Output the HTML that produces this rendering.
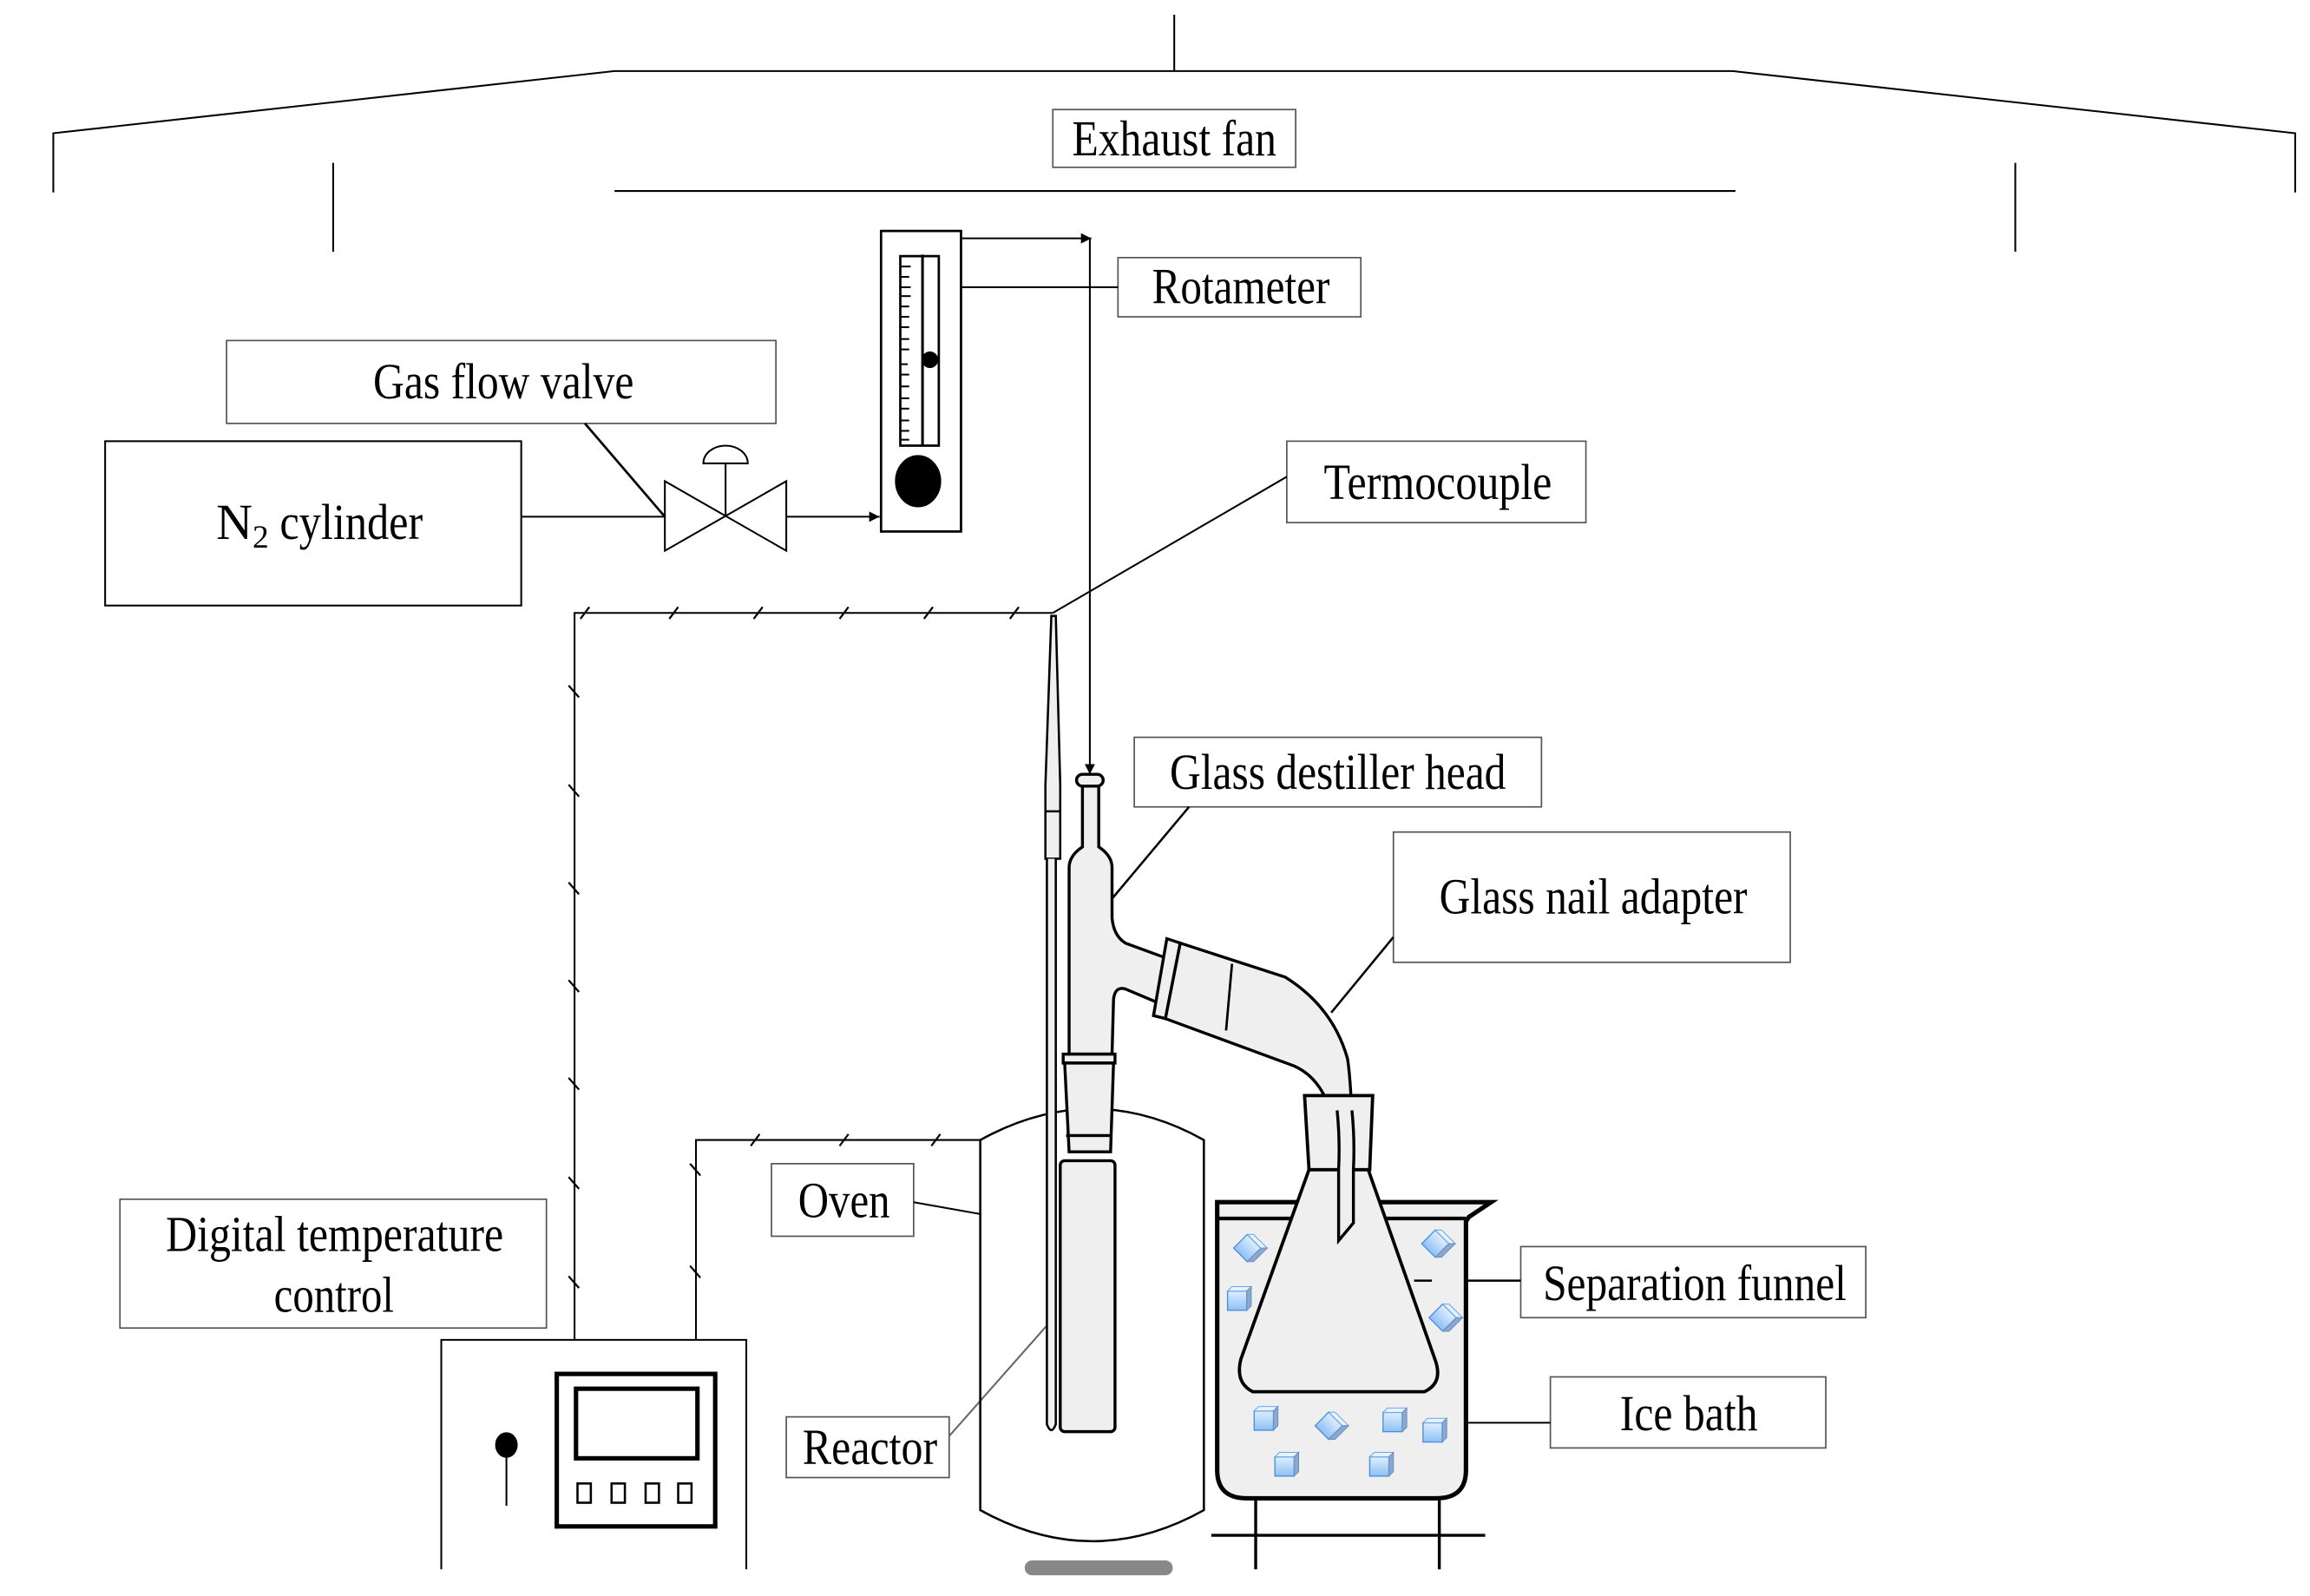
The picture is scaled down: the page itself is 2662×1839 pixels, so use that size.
<!DOCTYPE html>
<html><head><meta charset="utf-8"><style>
html,body{margin:0;padding:0;background:#fff;}
svg{display:block;}
text{font-family:"Liberation Serif",serif;font-size:34px;fill:#000;}
</style></head><body>
<svg width="2662" height="1839" viewBox="0 0 1560 1078" preserveAspectRatio="none" xmlns="http://www.w3.org/2000/svg">
<defs>
<marker id="ah" viewBox="0 0 10 10" refX="10" refY="5" markerWidth="7" markerHeight="7" orient="auto" markerUnits="userSpaceOnUse"><path d="M0,0 L10,5 L0,10 z" fill="#000"/></marker>
<linearGradient id="ice" x1="0" y1="0" x2="0" y2="1"><stop offset="0" stop-color="#dfeeff"/><stop offset="1" stop-color="#8ec0f5"/></linearGradient>
<g id="cube"><rect x="-7" y="-6" width="13" height="13" fill="url(#ice)" stroke="#4a90d9" stroke-width="0.8"/><path d="M-7,-6 L-4,-9 L9,-9 L6,-6 z" fill="#e6f2ff" stroke="#6aa6e6" stroke-width="0.6"/><path d="M6,-6 L9,-9 L9,4 L6,7 z" fill="#8aa8d0" stroke="#6a90c0" stroke-width="0.6"/></g>
</defs>
<g fill="none" stroke="#000" stroke-width="1.2">
<line x1="793" y1="10" x2="793" y2="48"/>
<polyline points="36,130 36,90 415,48 1170,48 1550,90 1550,130"/>
<line x1="225" y1="110" x2="225" y2="170"/>
<line x1="1361" y1="110" x2="1361" y2="170"/>
<line x1="415" y1="129" x2="1172" y2="129"/>
<rect x="711" y="74" width="164" height="39" stroke="#555" stroke-width="1"/>
<rect x="755" y="174" width="164" height="40" stroke="#555" stroke-width="1"/>
<rect x="153" y="230" width="371" height="56" stroke="#555" stroke-width="1"/>
<rect x="71" y="298" width="281" height="111"/>
<rect x="869" y="298" width="202" height="55" stroke="#555" stroke-width="1"/>
<rect x="766" y="498" width="275" height="47" stroke="#555" stroke-width="1"/>
<rect x="941" y="562" width="268" height="88" stroke="#555" stroke-width="1"/>
<rect x="521" y="786" width="96" height="49" stroke="#555" stroke-width="1"/>
<rect x="81" y="810" width="288" height="87" stroke="#555" stroke-width="1"/>
<rect x="531" y="957" width="110" height="41" stroke="#555" stroke-width="1"/>
<rect x="1027" y="842" width="233" height="48" stroke="#555" stroke-width="1"/>
<rect x="1047" y="930" width="186" height="48" stroke="#555" stroke-width="1"/>
<line x1="649" y1="194" x2="755" y2="194"/>
<line x1="395" y1="286" x2="449" y2="349" stroke-width="1.6"/>
<line x1="869" y1="322" x2="711" y2="414"/>
<line x1="803" y1="545" x2="751" y2="607" stroke-width="1.5"/>
<line x1="941" y1="633" x2="899" y2="684" stroke-width="1.5"/>
<line x1="617" y1="812" x2="662" y2="820"/>
<line x1="641" y1="970" x2="709" y2="893" stroke="#666"/>
<line x1="955" y1="865" x2="1027" y2="865" stroke-width="1.5"/>
<line x1="990" y1="961" x2="1047" y2="961"/>
<line x1="352" y1="349" x2="449" y2="349"/>
<path d="M449,325 L449,372 L531,325 L531,372 z"/>
<line x1="490" y1="349" x2="490" y2="313"/>
<path d="M475,313 A15,12 0 0 1 505,313 z"/>
<line x1="531" y1="349" x2="594" y2="349" marker-end="url(#ah)"/>
<rect x="595" y="156" width="54" height="203" stroke-width="1.6"/>
<rect x="608" y="173" width="26" height="128" stroke-width="1.6"/>
<line x1="623" y1="172" x2="623" y2="301" stroke-width="1.8"/>
<g stroke-width="1.2">
<line x1="608" y1="180" x2="615" y2="180"/><line x1="608" y1="187" x2="614" y2="187"/><line x1="608" y1="194" x2="615" y2="194"/><line x1="608" y1="200" x2="615" y2="200"/><line x1="608" y1="207" x2="614" y2="207"/><line x1="608" y1="214" x2="614" y2="214"/><line x1="608" y1="221" x2="614" y2="221"/><line x1="608" y1="229" x2="614" y2="229"/><line x1="608" y1="236" x2="614" y2="236"/><line x1="608" y1="246" x2="613" y2="246"/><line x1="608" y1="253" x2="614" y2="253"/><line x1="608" y1="261" x2="614" y2="261"/><line x1="608" y1="269" x2="614" y2="269"/><line x1="608" y1="276" x2="614" y2="276"/><line x1="608" y1="284" x2="614" y2="284"/><line x1="608" y1="291" x2="614" y2="291"/><line x1="608" y1="297" x2="614" y2="297"/>
</g>
<circle cx="628" cy="243" r="5" fill="#000"/>
<ellipse cx="620" cy="325" rx="15" ry="17" fill="#000"/>
<polyline points="649,161 737,161" marker-end="url(#ah)"/>
<line x1="736" y1="161" x2="736" y2="523" marker-end="url(#ah)"/>
<polyline points="711,414 388,414 388,905"/>
<polyline points="662,770 470,770 470,905"/>
<g stroke-width="1.3">
<line x1="392" y1="418" x2="398" y2="410"/><line x1="452" y1="418" x2="458" y2="410"/><line x1="509" y1="418" x2="515" y2="410"/><line x1="567" y1="418" x2="573" y2="410"/><line x1="624" y1="418" x2="630" y2="410"/><line x1="682" y1="418" x2="688" y2="410"/>
<line x1="384" y1="463" x2="391" y2="471"/><line x1="384" y1="530" x2="391" y2="538"/><line x1="384" y1="596" x2="391" y2="604"/><line x1="384" y1="662" x2="391" y2="670"/><line x1="384" y1="728" x2="391" y2="736"/><line x1="384" y1="795" x2="391" y2="803"/><line x1="384" y1="862" x2="391" y2="870"/>
<line x1="507" y1="774" x2="513" y2="766"/><line x1="567" y1="774" x2="573" y2="766"/><line x1="629" y1="774" x2="635" y2="766"/>
<line x1="466" y1="786" x2="473" y2="794"/><line x1="466" y1="855" x2="473" y2="863"/>
</g>
<path d="M662,770 Q738,728 813,770 L813,1020 Q738,1062 662,1020 z" stroke-width="1.5"/>
<rect x="692" y="1054" width="100" height="10" rx="5" fill="#888" stroke="none"/>
<polyline points="298,1060 298,905 504,905 504,1060"/>
<rect x="376" y="928" width="107" height="103" stroke-width="3"/>
<rect x="389" y="938" width="82" height="47" stroke-width="3"/>
<g stroke-width="1.5"><rect x="390" y="1002" width="9" height="13"/><rect x="413" y="1002" width="9" height="13"/><rect x="436" y="1002" width="9" height="13"/><rect x="458" y="1002" width="9" height="13"/></g>
<ellipse cx="342" cy="976" rx="7" ry="8" fill="#000"/>
<line x1="342" y1="976" x2="342" y2="1017"/>
</g>
<g fill="#efefef" stroke="#000" stroke-width="2">
<path d="M710,416 L713,416 L716,530 L716,580 L706,580 L706,530 z" stroke-width="1.5"/>
<line x1="706" y1="548" x2="716" y2="548" stroke-width="1.5"/>
<path d="M707,580 L707,962 Q710,970 713,962 L713,580" stroke-width="1.5"/>
<path d="M797,637 L868,660 Q900,680 910,715 Q914,740 914,826 L903,838 Q903,770 899,752 Q892,728 874,720 L787,688 z"/>
<line x1="832" y1="651" x2="828" y2="696" stroke-width="1.6"/>
<path d="M731,531 L742,531 L742,572 Q751,578 751,586 L751,620 Q752,632 760,637 L790,648 L786,679 L760,668 Q753,666 752,675 L751,712 L722,712 L722,586 Q722,578 731,572 z"/>
<path d="M788,634 L797,637 L787,688 L779,686 z"/>
<rect x="727" y="523" width="18" height="8" rx="4"/>
<path d="M718,712 L753,712 L753,718 L718,718 z"/>
<path d="M719,718 L752,718 L750,778 L722,778 z"/>
<line x1="720" y1="767" x2="751" y2="767"/>
<rect x="716" y="784" width="37" height="183" rx="3"/>
<path d="M822,812 L1007,812 L992,822 L990,825 L990,993 Q990,1012 970,1012 L842,1012 Q822,1012 822,993 z" stroke-width="3"/>
<line x1="823" y1="823" x2="990" y2="823" stroke-width="2.5"/>
<path d="M884,790 L924,790 L969,918 Q975,934 962,940 L846,940 Q834,934 838,918 z" stroke-width="2.2"/>
<path d="M881,740 L927,740 L925,790 L884,790 z" stroke-width="2.2"/>
<path d="M903,750 Q905,770 904,790 L904,838 L914,826 L914,790 Q915,770 913,750" stroke-width="2"/>
</g>
<line x1="955" y1="865" x2="967" y2="865" stroke="#000" stroke-width="1.5"/>
<g stroke="#000" stroke-width="2">
<line x1="848" y1="1013" x2="848" y2="1060"/><line x1="972" y1="1013" x2="972" y2="1060"/>
<line x1="818" y1="1037" x2="1003" y2="1037"/>
</g>
<use href="#cube" x="836" y="878"/>
<use href="#cube" x="854" y="959"/>
<use href="#cube" x="941" y="960"/>
<use href="#cube" x="968" y="967"/>
<use href="#cube" x="868" y="990"/>
<use href="#cube" x="932" y="990"/>
<use href="#cube" x="843" y="843" transform="rotate(45 843 843)"/>
<use href="#cube" x="970" y="840" transform="rotate(45 970 840)"/>
<use href="#cube" x="975" y="890" transform="rotate(45 975 890)"/>
<use href="#cube" x="898" y="963" transform="rotate(45 898 963)"/>
<text x="724" y="105" textLength="138" lengthAdjust="spacingAndGlyphs">Exhaust fan</text>
<text x="778" y="205" textLength="120" lengthAdjust="spacingAndGlyphs">Rotameter</text>
<text x="252" y="269" textLength="176" lengthAdjust="spacingAndGlyphs">Gas flow valve</text>
<text x="146" y="364">N<tspan font-size="22" dy="6">2</tspan><tspan dy="-6" textLength="104" lengthAdjust="spacingAndGlyphs"> cylinder</tspan></text>
<text x="894" y="337" textLength="154" lengthAdjust="spacingAndGlyphs">Termocouple</text>
<text x="790" y="533" textLength="227" lengthAdjust="spacingAndGlyphs">Glass destiller head</text>
<text x="972" y="617" textLength="208" lengthAdjust="spacingAndGlyphs">Glass nail adapter</text>
<text x="539" y="822" textLength="62" lengthAdjust="spacingAndGlyphs">Oven</text>
<text x="112" y="845" textLength="228" lengthAdjust="spacingAndGlyphs">Digital temperature</text>
<text x="185" y="886" textLength="81" lengthAdjust="spacingAndGlyphs">control</text>
<text x="542" y="989" textLength="91" lengthAdjust="spacingAndGlyphs">Reactor</text>
<text x="1042" y="878" textLength="205" lengthAdjust="spacingAndGlyphs">Separation funnel</text>
<text x="1094" y="966" textLength="93" lengthAdjust="spacingAndGlyphs">Ice bath</text>
</svg>
</body></html>
